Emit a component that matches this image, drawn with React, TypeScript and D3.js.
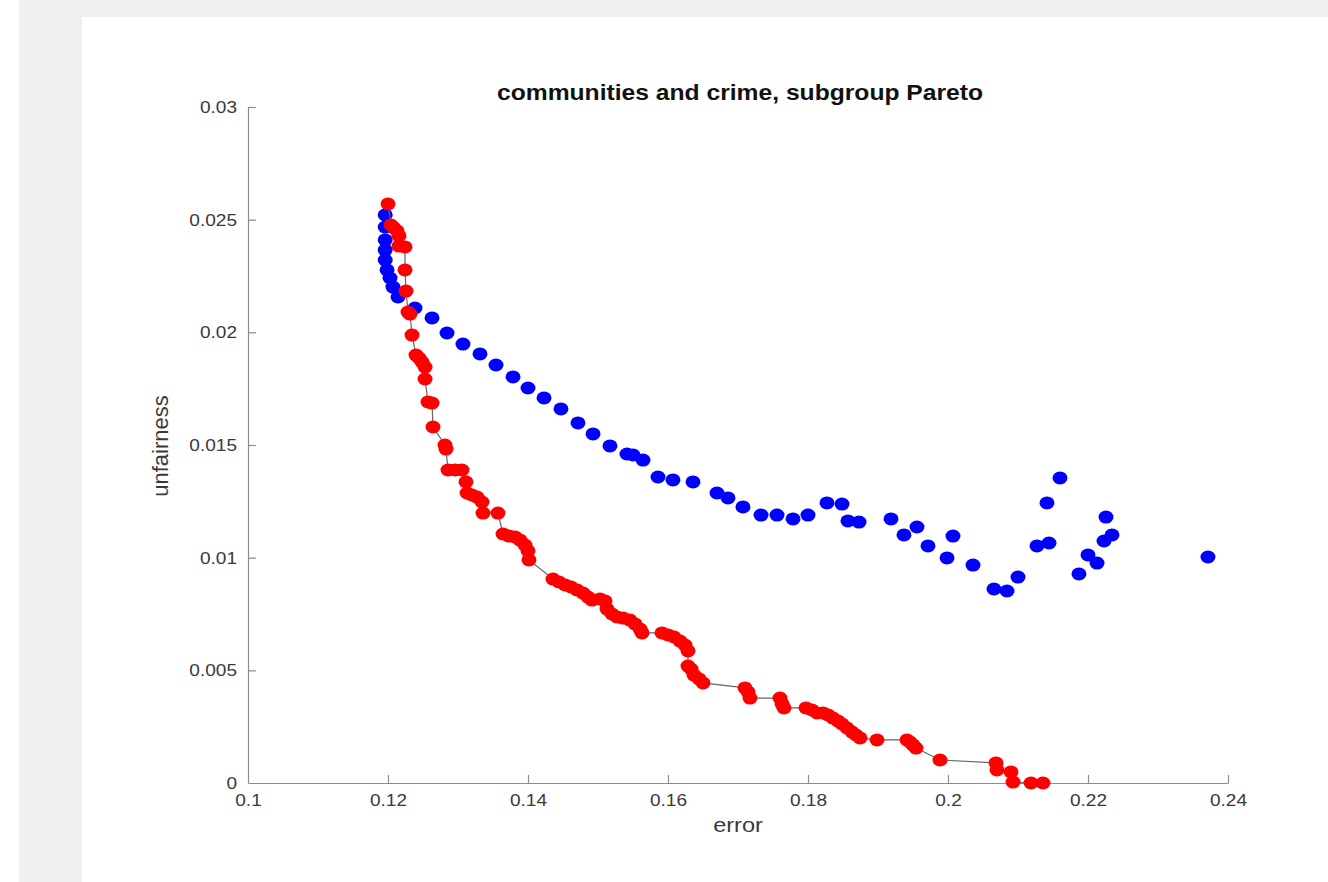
import React, { useEffect, useRef } from "react";
import * as d3 from "d3";

// blue: all subgroup models (error, unfairness)
const blueError = [
  0.1196, 0.1196, 0.1196, 0.1196, 0.1196, 0.11986, 0.12029, 0.12071, 0.12143, 0.12386,
  0.12629, 0.12843, 0.13071, 0.13314, 0.13543, 0.13786, 0.14, 0.14229, 0.14471, 0.14714,
  0.14929, 0.15171, 0.15414, 0.155, 0.15643, 0.15857, 0.16071, 0.16357, 0.167, 0.16857,
  0.17071, 0.17329, 0.17557, 0.17786, 0.18, 0.18271, 0.18486, 0.18571, 0.18729, 0.19186,
  0.19371, 0.19557, 0.19714, 0.20071, 0.19986, 0.20357, 0.20657, 0.20843, 0.21, 0.21271,
  0.21443, 0.21414, 0.216, 0.21871, 0.22, 0.22129, 0.22229, 0.22343, 0.22257, 0.23714,
];
const blueUnfair = [
  0.02521, 0.02467, 0.0241, 0.02365, 0.02321, 0.02277, 0.02241, 0.02201, 0.02157, 0.02108,
  0.02064, 0.01997, 0.01948, 0.01904, 0.01855, 0.01802, 0.01753, 0.01709, 0.0166, 0.01598,
  0.01549, 0.01496, 0.0146, 0.01456, 0.01433, 0.01358, 0.01345, 0.01336, 0.01287, 0.01265,
  0.01225, 0.01189, 0.01189, 0.01172, 0.01189, 0.01243, 0.01238, 0.01163, 0.01158, 0.01172,
  0.01101, 0.01136, 0.01052, 0.01096, 0.00999, 0.00967, 0.00861, 0.00852, 0.00914, 0.01052,
  0.01065, 0.01243, 0.01354, 0.00928, 0.01012, 0.00976, 0.01074, 0.01101, 0.0118, 0.01003,
];

// red: pareto frontier
const redError = [
  0.12, 0.12043, 0.12086, 0.12129, 0.12157, 0.12157, 0.12243, 0.12243, 0.12257, 0.12286,
  0.12314, 0.12343, 0.124, 0.12443, 0.12486, 0.12529, 0.12529, 0.12571, 0.12629, 0.12643,
  0.12814, 0.12829, 0.12857, 0.12957, 0.13057, 0.13114, 0.13129, 0.132, 0.13271, 0.13343,
  0.13357, 0.13571, 0.13643, 0.13729, 0.13814, 0.13886, 0.13957, 0.14, 0.14014, 0.14357,
  0.14443, 0.14529, 0.14614, 0.147, 0.14786, 0.14857, 0.14914, 0.15029, 0.151, 0.15129,
  0.152, 0.15271, 0.15357, 0.15457, 0.15529, 0.156, 0.15629, 0.15914, 0.16, 0.16086,
  0.16171, 0.16243, 0.16286, 0.16286, 0.16329, 0.16371, 0.16443, 0.165, 0.171, 0.17143,
  0.17171, 0.176, 0.17629, 0.17657, 0.17971, 0.18057, 0.18129, 0.18214, 0.18286, 0.18357,
  0.18429, 0.18486, 0.18557, 0.18629, 0.18686, 0.18743, 0.18986, 0.19414, 0.19457, 0.195,
  0.19543, 0.19886, 0.20686, 0.207, 0.209, 0.20929, 0.21186, 0.21357,
];
const redUnfair = [
  0.0257, 0.02476, 0.02463, 0.0245, 0.02428, 0.02383, 0.02379, 0.02277, 0.02183, 0.0209,
  0.02081, 0.01988, 0.01899, 0.01886, 0.01868, 0.01846, 0.01793, 0.01691, 0.01686, 0.0158,
  0.015, 0.01482, 0.01389, 0.01389, 0.01389, 0.01336, 0.01287, 0.01278, 0.01269, 0.01247,
  0.01198, 0.01198, 0.01105, 0.01096, 0.01092, 0.01078, 0.01056, 0.0103, 0.0099, 0.00905,
  0.00892, 0.00879, 0.0087, 0.00857, 0.00843, 0.00825, 0.00812, 0.00817, 0.00808, 0.00772,
  0.0075, 0.00737, 0.00732, 0.00723, 0.00706, 0.00683, 0.00666, 0.00666, 0.00657, 0.00648,
  0.0063, 0.00612, 0.00586, 0.00519, 0.00506, 0.00479, 0.00462, 0.00444, 0.00422, 0.00404,
  0.00377, 0.00377, 0.00351, 0.00333, 0.00333, 0.00324, 0.00311, 0.00311, 0.00302, 0.00288,
  0.00275, 0.00262, 0.00244, 0.00226, 0.00213, 0.002, 0.00191, 0.00191, 0.00182, 0.00169,
  0.00155, 0.00102, 0.00089, 0.00058, 0.00049, 0.00004, 0, 0,
];

const xTicks = [0.1, 0.12, 0.14, 0.16, 0.18, 0.2, 0.22, 0.24];
const yTicks = [0, 0.005, 0.01, 0.015, 0.02, 0.025, 0.03];

const W = 1328;
const H = 882;
const FONT = "'Liberation Sans', Arial, Helvetica, sans-serif";
// the screenshot is a bit wider than tall, text looks stretched sideways
const STRETCH = 1.12;

function stretchText(sel: d3.Selection<any, any, any, any>, k = STRETCH) {
  sel.each(function () {
    const t = this as SVGTextElement;
    const len = t.getComputedTextLength();
    t.setAttribute("textLength", String(len * k));
    t.setAttribute("lengthAdjust", "spacingAndGlyphs");
  });
}

export default function App() {
  const ref = useRef<SVGSVGElement>(null);

  useEffect(() => {
    const svg = d3.select(ref.current);
    svg.selectAll("*").remove();

    // figure background: gray frame with white panel
    svg.append("rect").attr("width", W).attr("height", H).attr("fill", "#ffffff");
    svg.append("rect").attr("x", 19).attr("y", 0).attr("width", W - 19).attr("height", H).attr("fill", "#f0f0f0");
    svg.append("rect").attr("x", 82).attr("y", 17).attr("width", W - 82).attr("height", H - 17).attr("fill", "#ffffff");

    const x = d3.scaleLinear().domain([0.1, 0.24]).range([248, 1228]);
    const y = d3.scaleLinear().domain([0, 0.03]).range([783, 107]);

    const axisColor = "#8c8c8c";
    const labelColor = "#3a3a3a";

    const xAxis = svg.append("g")
      .attr("transform", `translate(0,${y(0)})`)
      .call(d3.axisBottom(x).tickValues(xTicks).tickSizeInner(-8).tickSizeOuter(0).tickPadding(11)
        .tickFormat((d) => d3.format("~g")(d as number)));
    const yAxis = svg.append("g")
      .attr("transform", `translate(${x(0.1)},0)`)
      .call(d3.axisLeft(y).tickValues(yTicks).tickSizeInner(-8).tickSizeOuter(0).tickPadding(11)
        .tickFormat((d) => d3.format("~g")(d as number)));

    [xAxis, yAxis].forEach((g) => {
      g.select(".domain").attr("stroke", axisColor).attr("stroke-width", 1.2);
      g.selectAll(".tick line").attr("stroke", axisColor).attr("stroke-width", 1.2);
      const txt = g.selectAll(".tick text").attr("fill", labelColor).attr("font-family", FONT).attr("font-size", 17);
      stretchText(txt);
    });
    // first tick at the corner has no inward mark in the reference
    xAxis.selectAll(".tick").filter((d) => d === 0.1).select("line").remove();
    yAxis.selectAll(".tick").filter((d) => d === 0).select("line").remove();

    // blue points
    svg.append("g").selectAll("ellipse")
      .data(blueError.map((e, i) => [e, blueUnfair[i]]))
      .join("ellipse")
      .attr("cx", (d) => x(d[0]))
      .attr("cy", (d) => y(d[1]))
      .attr("rx", 7.5)
      .attr("ry", 6.5)
      .attr("fill", "#0000ff");

    // red pareto front line + points
    const redPts = redError.map((e, i) => [e, redUnfair[i]] as [number, number]);
    svg.append("path")
      .datum(redPts)
      .attr("d", d3.line<[number, number]>().x((d) => x(d[0])).y((d) => y(d[1])))
      .attr("fill", "none")
      .attr("stroke", "#666666")
      .attr("stroke-width", 1.2);

    svg.append("g").selectAll("ellipse")
      .data(redPts)
      .join("ellipse")
      .attr("cx", (d) => x(d[0]))
      .attr("cy", (d) => y(d[1]))
      .attr("rx", 7.5)
      .attr("ry", 6.5)
      .attr("fill", "#ff0000");

    // title and axis labels
    const title = svg.append("text")
      .attr("x", 740).attr("y", 100)
      .attr("text-anchor", "middle")
      .attr("font-family", FONT).attr("font-size", 22).attr("font-weight", "bold")
      .attr("fill", "#111")
      .text("communities and crime, subgroup Pareto");
    stretchText(title);

    const xl = svg.append("text")
      .attr("x", 738).attr("y", 832)
      .attr("text-anchor", "middle")
      .attr("font-family", FONT).attr("font-size", 21)
      .attr("fill", labelColor)
      .text("error");
    stretchText(xl);

    svg.append("text")
      .attr("transform", `translate(168,446) rotate(-90)`)
      .attr("text-anchor", "middle")
      .attr("font-family", FONT).attr("font-size", 22)
      .attr("fill", labelColor)
      .text("unfairness");
  }, []);

  return (
    <svg ref={ref} width={W} height={H} style={{ position: "absolute", left: 0, top: 0 }} />
  );
}
